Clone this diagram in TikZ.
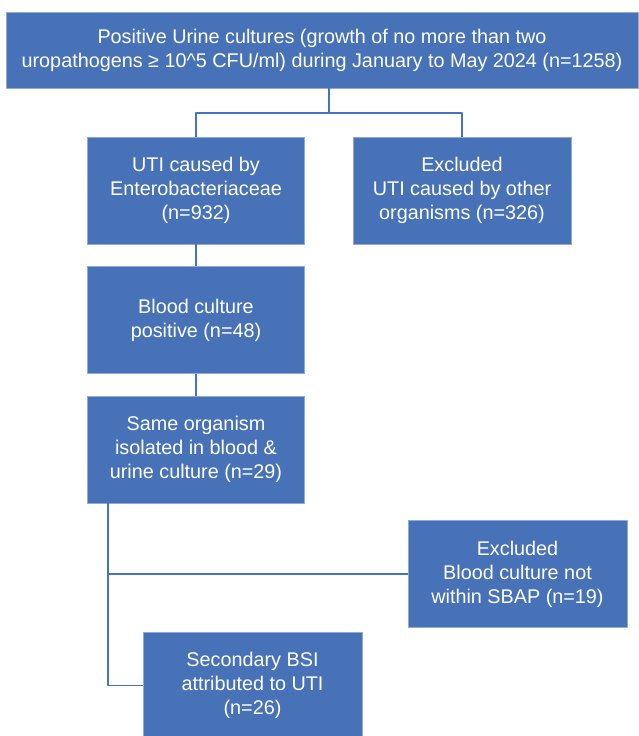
\documentclass[tikz,border=0pt]{standalone}
\usepackage{fontspec}
\setmainfont{Liberation Sans}
\usetikzlibrary{calc}
\definecolor{boxblue}{RGB}{72,114,184}
\definecolor{lineblue}{RGB}{68,114,196}
\begin{document}
\begin{tikzpicture}[x=1pt,y=-1pt, line join=round,
	box/.style={rectangle, fill=boxblue, draw=boxblue!60!white, line width=0.6pt, text=white, align=center, inner sep=0pt, font=\fontsize{19.8}{24}\selectfont},
	link/.style={draw=lineblue, line width=1.1pt}]
	\useasboundingbox (0,0) rectangle (638,736);
	\def\w{217} \def\h{107} % box size
	\node[box, minimum width=632, minimum height=76] (top) at (322,50)
		{Positive Urine cultures (growth of no more than two\\uropathogens ≥ 10\^{}5 CFU/ml) during January to May 2024 (n=1258)};
	\node[box, minimum width=\w, minimum height=\h] (uti) at (196,190.5)
		{UTI caused by\\Enterobacteriaceae\\(n=932)};
	\node[box, minimum width=218, minimum height=\h] (excl1) at (462,190.5)
		{Excluded\\UTI caused by other\\organisms (n=326)};
	\node[box, minimum width=\w, minimum height=\h] (blood) at (196,320)
		{Blood culture\\positive (n=48)};
	\node[box, minimum width=\w, minimum height=\h] (same) at (196,449.5)
		{Same organism\\isolated in blood \&\\urine culture (n=29)};
	\node[box, minimum width=219, minimum height=\h] (excl2) at (517.5,574)
		{Excluded\\Blood culture not\\within SBAP (n=19)};
	\node[box, minimum width=219, minimum height=\h] (bsi) at (252.5,685.5)
		{Secondary BSI\\attributed to UTI\\(n=26)};
	% connectors
	\coordinate (split) at (329,113);
	\coordinate (trunk) at (108,575);
	\draw[link] (top.south -| split) -- (split);
	\draw[link] (uti.north) |- (split) -| (excl1.north);
	\draw[link] (uti) -- (blood);
	\draw[link] (blood) -- (same);
	\draw[link] (same.south -| trunk) |- (bsi.west);
	\draw[link] (trunk |- excl2.west) -- (excl2.west);
\end{tikzpicture}
\end{document}
